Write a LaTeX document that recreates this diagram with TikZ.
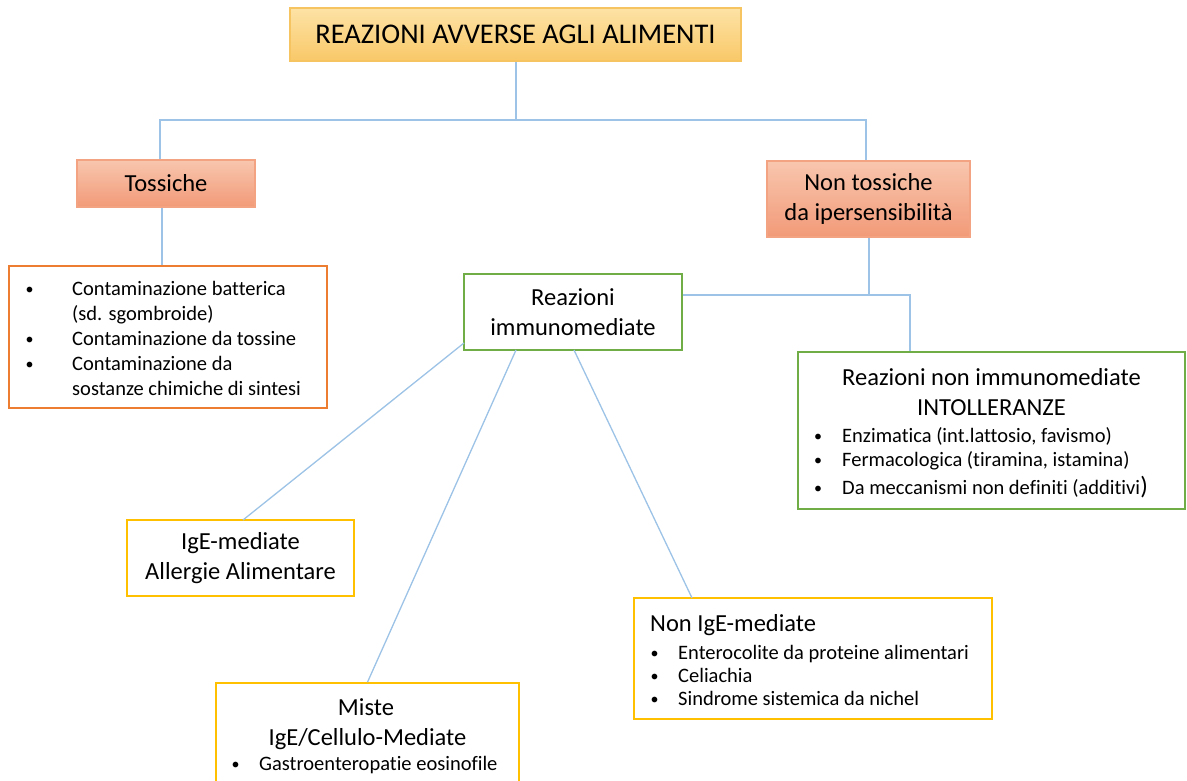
\documentclass[tikz,border=0pt]{standalone}
\usepackage{fontspec}
\setmainfont{Carlito}[Ligatures=CommonOff]
\usetikzlibrary{calc}
\definecolor{connc}{HTML}{9DC3E6}
\definecolor{orbrd}{HTML}{ED7D31}
\definecolor{grbrd}{HTML}{70AD47}
\definecolor{yebrd}{HTML}{FFC000}
\definecolor{titletop}{HTML}{FDE3A6}
\definecolor{titlebot}{HTML}{F9C868}
\definecolor{titlebrd}{HTML}{F7C462}
\definecolor{salmtop}{HTML}{F8C6AE}
\definecolor{salmbot}{HTML}{F29A78}
\definecolor{salmbrd}{HTML}{F3A282}
\tikzset{
  connline/.style={draw=connc, line width=1.3pt},
  box/.style={draw, line width=1.7pt, inner sep=0pt, align=center, fill=white},
  titlebox/.style={box, draw=titlebrd, top color=titletop, bottom color=titlebot},
  salmbox/.style={box, draw=salmbrd, top color=salmtop, bottom color=salmbot},
  orbox/.style={box, draw=orbrd},
  grbox/.style={box, draw=grbrd},
  yebox/.style={box, draw=yebrd},
  bigtxt/.style={font=\fontsize{24.5}{30}\selectfont},
  smalltxt/.style={font=\fontsize{20.5}{25}\selectfont, inner sep=0pt, anchor=base west},
  bul/.style={font=\fontsize{16}{20}\selectfont, inner sep=0pt, anchor=base, yshift=1pt},
  bigline/.style={font=\fontsize{24.5}{30}\selectfont, inner sep=0pt},
}
\begin{document}
\begin{tikzpicture}[x=1pt,y=-1pt]
\useasboundingbox[fill=white] (0,0) rectangle (1187,781);

% boxes
\node[titlebox, minimum width=451pt, minimum height=53pt, font=\fontsize{28.5}{34}\selectfont] (title) at (515.5,34.5) {REAZIONI AVVERSE AGLI ALIMENTI};
\node[salmbox, minimum width=178pt, minimum height=47pt, bigtxt] (tox) at (166,183.5) {Tossiche};
\node[salmbox, minimum width=203pt, minimum height=76pt, bigtxt] (nontox) at (868.5,199) {Non tossiche\\da ipersensibilità};
\node[orbox, minimum width=318pt, minimum height=142pt] (contam) at (168,337) {};
\node[grbox, minimum width=218pt, minimum height=76pt, bigtxt] (immuno) at (573,312) {Reazioni\\immunomediate};
\node[grbox, minimum width=387pt, minimum height=157pt] (nonimm) at (991.5,430.5) {};
\node[yebox, minimum width=227pt, minimum height=76pt, bigtxt] (ige) at (240.5,558) {IgE-mediate\\Allergie Alimentare};
\node[yebox, minimum width=358pt, minimum height=121pt] (nonige) at (813,658.5) {};
\node[yebox, minimum width=303pt, minimum height=110pt] (miste) at (367.5,738) {};

% texts: contaminazioni
\node[bul] (cb1) at (29.5,295) {\textbullet};
\node[smalltxt] (ct1) at (72,295) {Contaminazione batterica};
\node[smalltxt] (ct2) at (72,320) {(sd. sgombroide)};
\node[bul] (cb3) at (29.5,345) {\textbullet};
\node[smalltxt] (ct3) at (72,345) {Contaminazione da tossine};
\node[bul] (cb4) at (29.5,370) {\textbullet};
\node[smalltxt] (ct4) at (72,370) {Contaminazione da};
\node[smalltxt] (ct5) at (72,395) {sostanze chimiche di sintesi};

% texts: non immunomediate
\node[bigline, anchor=base] (nt1) at (991.5,385) {Reazioni non immunomediate};
\node[bigline, anchor=base] (nt2) at (991.5,415) {INTOLLERANZE};
\node[bul] (nb1) at (818,442) {\textbullet};
\node[smalltxt] (nx1) at (842,442) {Enzimatica (int.lattosio, favismo)};
\node[bul] (nb2) at (818,466) {\textbullet};
\node[smalltxt] (nx2) at (842,466) {Fermacologica (tiramina, istamina)};
\node[bul] (nb3) at (818,494) {\textbullet};
\node[smalltxt] (nx3) at (842,494) {Da meccanismi non definiti (additivi{\fontsize{25}{25}\selectfont)}};

% texts: non IgE
\node[bigline, anchor=base west] (ni0) at (650,631) {Non IgE-mediate};
\node[bul] (nib1) at (654.5,659) {\textbullet};
\node[smalltxt] (ni1) at (678,659) {Enterocolite da proteine alimentari};
\node[bul] (nib2) at (654.5,682) {\textbullet};
\node[smalltxt] (ni2) at (678,682) {Celiachia};
\node[bul] (nib3) at (654.5,705) {\textbullet};
\node[smalltxt] (ni3) at (678,705) {Sindrome sistemica da nichel};

% texts: miste
\node[bigline, anchor=base] (mi1) at (366,715) {Miste};
\node[bigline, anchor=base] (mi2) at (367.5,745) {IgE/Cellulo-Mediate};
\node[bul] (mib) at (235.5,770) {\textbullet};
\node[smalltxt] (mi3) at (259,770) {Gastroenteropatie eosinofile};

% connectors
\coordinate (j1) at (516,120);
\coordinate (hl) at (160,120);
\coordinate (hr) at (866,120);
\draw[connline] (title.south -| j1) -- (j1);
\draw[connline] (hl |- tox.north) -- (hl) -- (hr) -- (hr |- nontox.north);
\coordinate (tc) at (162,0);
\draw[connline] (tc |- tox.south) -- (tc |- contam.north);
\coordinate (j2) at (869,295);
\coordinate (j3) at (910,295);
\draw[connline] (j2 |- nontox.south) -- (j2);
\draw[connline] (immuno.east |- j2) -- (j3) -- (j3 |- nonimm.north);
\coordinate (iw) at (464,343);
\coordinate (is1) at (516,350);
\coordinate (is2) at (574,350);
\coordinate (ig) at (243,520);
\coordinate (ng) at (692,598);
\draw[connline] (iw) -- (ig);
\draw[connline] (is1) -- (miste.north);
\draw[connline] (is2) -- (ng);
\end{tikzpicture}
\end{document}
